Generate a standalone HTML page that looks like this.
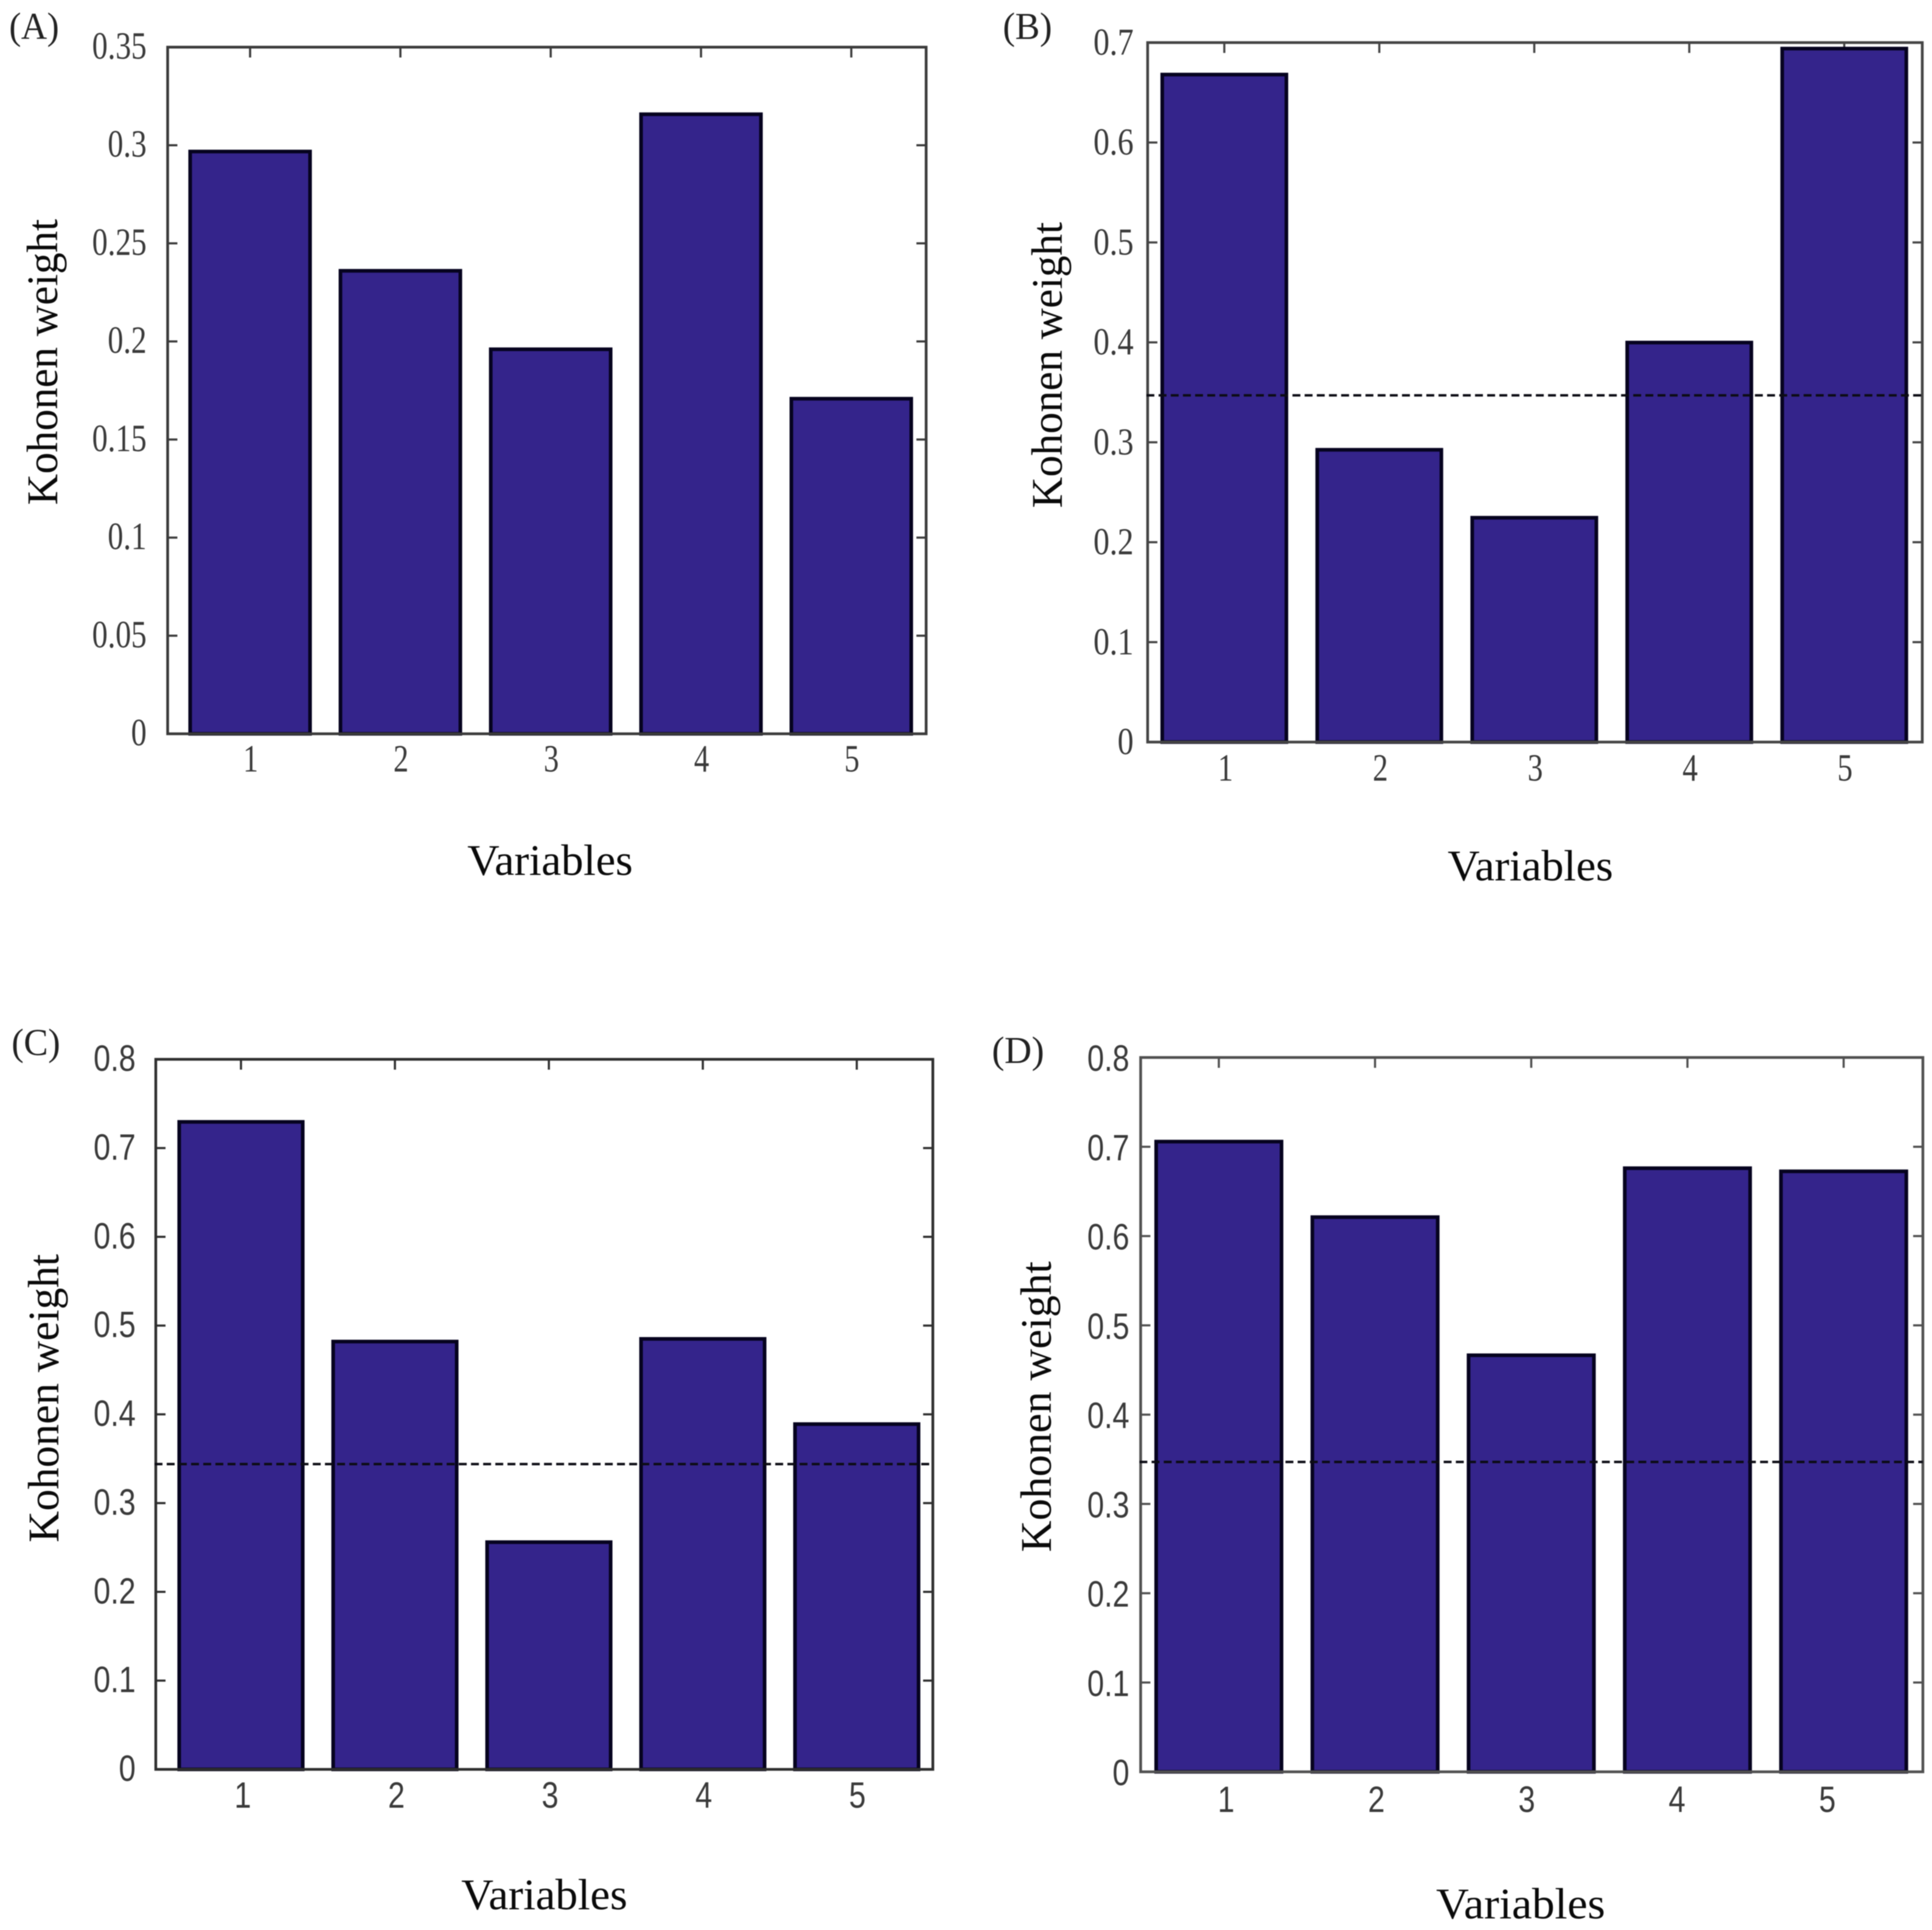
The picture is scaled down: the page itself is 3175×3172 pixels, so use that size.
<!DOCTYPE html>
<html lang="en">
<head>
<meta charset="utf-8">
<title>Kohonen weight by variable</title>
<style>
html,body{margin:0;padding:0;background:#fff;}
svg{display:block;filter:blur(0.9px);}
</style>
</head>
<body>
<svg id="figure" xmlns="http://www.w3.org/2000/svg" width="3175" height="3172" viewBox="0 0 3175 3172">
  <rect x="0" y="0" width="3175" height="3172" fill="#ffffff"></rect>
</svg>
<script>
const categories = [1, 2, 3, 4, 5];

const valuesA = [0.2968, 0.236, 0.1960, 0.3158, 0.1708];
const valuesB = [0.668, 0.2925, 0.2245, 0.3998, 0.694];
const valuesC = [0.7295, 0.482, 0.256, 0.485, 0.389];
const valuesD = [0.7058, 0.6212, 0.4665, 0.676, 0.6725];

const thresholdB = [0.347];
const thresholdC = [0.344];
const thresholdD = [0.347];

const tickLabelsA = ['0', '0.05', '0.1', '0.15', '0.2', '0.25', '0.3', '0.35'];
const tickLabelsB = ['0', '0.1', '0.2', '0.3', '0.4', '0.5', '0.6', '0.7'];
const tickLabelsC = ['0', '0.1', '0.2', '0.3', '0.4', '0.5', '0.6', '0.7', '0.8'];
const tickLabelsD = ['0', '0.1', '0.2', '0.3', '0.4', '0.5', '0.6', '0.7', '0.8'];

const SERIF = '"Liberation Serif", serif';
const SANS = '"Liberation Sans", sans-serif';
const NS = 'http://www.w3.org/2000/svg';
const root = document.getElementById('figure');

function make(parent, tag, attrs) {
  const el = document.createElementNS(NS, tag);
  for (const k in attrs) el.setAttribute(k, attrs[k]);
  parent.appendChild(el);
  return el;
}

function makeText(parent, str, x, y, o) {
  const attrs = {
    'font-family': o.family, 'font-size': o.size, fill: o.fill,
    'text-anchor': o.anchor || 'middle',
    transform: 'translate(' + x + ',' + y + ')' + (o.rotate ? ' rotate(-90)' : '') + (o.sx ? ' scale(' + o.sx + ',1)' : '')
  };
  if (o.length) { attrs.textLength = o.length; attrs.lengthAdjust = 'spacingAndGlyphs'; }
  const el = make(parent, 'text', attrs);
  el.textContent = str;
  return el;
}

function drawPanel(p) {
  const g = make(root, 'g', {});
  
  

  const yScale = v => p.bottom - (v / p.yMax) * (p.bottom - p.top);
  const xScale = c => p.firstBar + (c - 1) * p.barStep;
  const xLabelScale = c => p.firstLabel + (c - 1) * p.labelStep;

  p.tickLabels.forEach(label => {
    const v = parseFloat(label);
    const yy = yScale(v);
    if (v > 0 && v < p.yMax) {
      const tl = make(g, 'line', { x1: p.left, x2: p.left + 16, y1: yy, y2: yy, stroke: p.axisColor, 'stroke-width': 3.5 });
      
      
      const tr = make(g, 'line', { x1: p.right, x2: p.right - 16, y1: yy, y2: yy, stroke: p.axisColor, 'stroke-width': 3.5 });
      
      
    }
    const t = makeText(g, label, p.yLabelRight, yy + p.yLabelDy, { family: p.tickFamily, size: p.tickSize, fill: '#3a3a3a', anchor: 'end', sx: p.tickSx });
    
    
  });

  categories.forEach(c => {
    const xx = xScale(c);
    const tt = make(g, 'line', { x1: xx, x2: xx, y1: p.top, y2: p.top + 17, stroke: p.axisColor, 'stroke-width': 3.5 });
    
    
    const lab = makeText(g, String(c), xLabelScale(c), p.xLabelBaseline, { family: p.tickFamily, size: p.tickSize, fill: '#3a3a3a', sx: p.xTickSx });
    
    
  });

  p.values.forEach((v, i) => {
    const c = categories[i];
    const yTop = yScale(v);
    const bar = make(g, 'rect', {
      x: xScale(c) - p.barWidth / 2, y: yTop, width: p.barWidth, height: p.bottom - yTop,
      fill: '#34248b', stroke: '#06031f', 'stroke-width': 6
    });
    
    
  });

  const frame = make(g, 'rect', {
    x: p.left, y: p.top, width: p.right - p.left, height: p.bottom - p.top,
    fill: 'none', stroke: p.axisColor, 'stroke-width': 4.5
  });
  
  

  if (p.threshold) {
    const yy = yScale(p.threshold[0]);
    const dash = make(g, 'line', {
      x1: p.left - 2, x2: p.right, y1: yy, y2: yy,
      stroke: '#0c0c14', 'stroke-width': 4, 'stroke-dasharray': '13 7'
    });
    
    
  }

  const yt = makeText(g, 'Kohonen weight', p.yTitleX, p.yTitleY, { family: SERIF, size: 72, fill: '#0a0a0a', rotate: true, length: p.yTitleLen });
  
  

  const xt = makeText(g, 'Variables', p.xTitleX, p.xTitleY, { family: SERIF, size: 72, fill: '#0a0a0a', anchor: 'start', length: p.xTitleLen });
  
  

  const pl = makeText(g, p.tag, p.tagX, p.tagY, { family: SERIF, size: 62, fill: '#222', anchor: 'start', length: p.tagLen });
  
  
}

drawPanel({
  id: 'a', tag: '(A)', values: valuesA, tickLabels: tickLabelsA, yMax: 0.35,
  left: 275.5, right: 1522, top: 77.5, bottom: 1206,
  firstBar: 411, barStep: 247, barWidth: 197,
  firstLabel: 412, labelStep: 247, xLabelBaseline: 1268,
  tickFamily: SERIF, tickSize: 64, tickSx: 0.8, xTickSx: 0.78, yLabelRight: 241, yLabelDy: 19,
  axisColor: '#3a3a3a',
  yTitleX: 94, yTitleY: 595, yTitleLen: 470,
  xTitleX: 768, xTitleY: 1438, xTitleLen: 272,
  tagX: 15, tagY: 64, tagLen: 82
});
drawPanel({
  id: 'b', tag: '(B)', values: valuesB, tickLabels: tickLabelsB, yMax: 0.7, threshold: thresholdB,
  left: 1886, right: 3159, top: 70, bottom: 1219.6,
  firstBar: 2012, barStep: 254.7, barWidth: 204,
  firstLabel: 2014, labelStep: 254.5, xLabelBaseline: 1283,
  tickFamily: SERIF, tickSize: 63, tickSx: 0.84, xTickSx: 0.8, yLabelRight: 1863, yLabelDy: 20,
  axisColor: '#444444',
  yTitleX: 1745, yTitleY: 600, yTitleLen: 470,
  xTitleX: 2379, xTitleY: 1447, xTitleLen: 272,
  tagX: 1648, tagY: 64, tagLen: 81
});
drawPanel({
  id: 'c', tag: '(C)', values: valuesC, tickLabels: tickLabelsC, yMax: 0.8, threshold: thresholdC,
  left: 256, right: 1533, top: 1741, bottom: 2908,
  firstBar: 396, barStep: 253, barWidth: 203,
  firstLabel: 399, labelStep: 252.5, xLabelBaseline: 2971,
  tickFamily: SANS, tickSize: 60, tickSx: 0.83, xTickSx: 0.83, yLabelRight: 223, yLabelDy: 19,
  axisColor: '#2e2e2e',
  yTitleX: 96, yTitleY: 2298, yTitleLen: 474,
  xTitleX: 758, xTitleY: 3138, xTitleLen: 273,
  tagX: 19, tagY: 1734, tagLen: 80
});
drawPanel({
  id: 'd', tag: '(D)', values: valuesD, tickLabels: tickLabelsD, yMax: 0.8, threshold: thresholdD,
  left: 1874.5, right: 3160, top: 1738, bottom: 2912,
  firstBar: 2003, barStep: 256.7, barWidth: 206,
  firstLabel: 2015, labelStep: 247, xLabelBaseline: 2978,
  tickFamily: SANS, tickSize: 60, tickSx: 0.83, xTickSx: 0.83, yLabelRight: 1856, yLabelDy: 22,
  axisColor: '#505050',
  yTitleX: 1727, yTitleY: 2312, yTitleLen: 478,
  xTitleX: 2360, xTitleY: 3153, xTitleLen: 278,
  tagX: 1630, tagY: 1747, tagLen: 86
});
</script>
</body>
</html>
